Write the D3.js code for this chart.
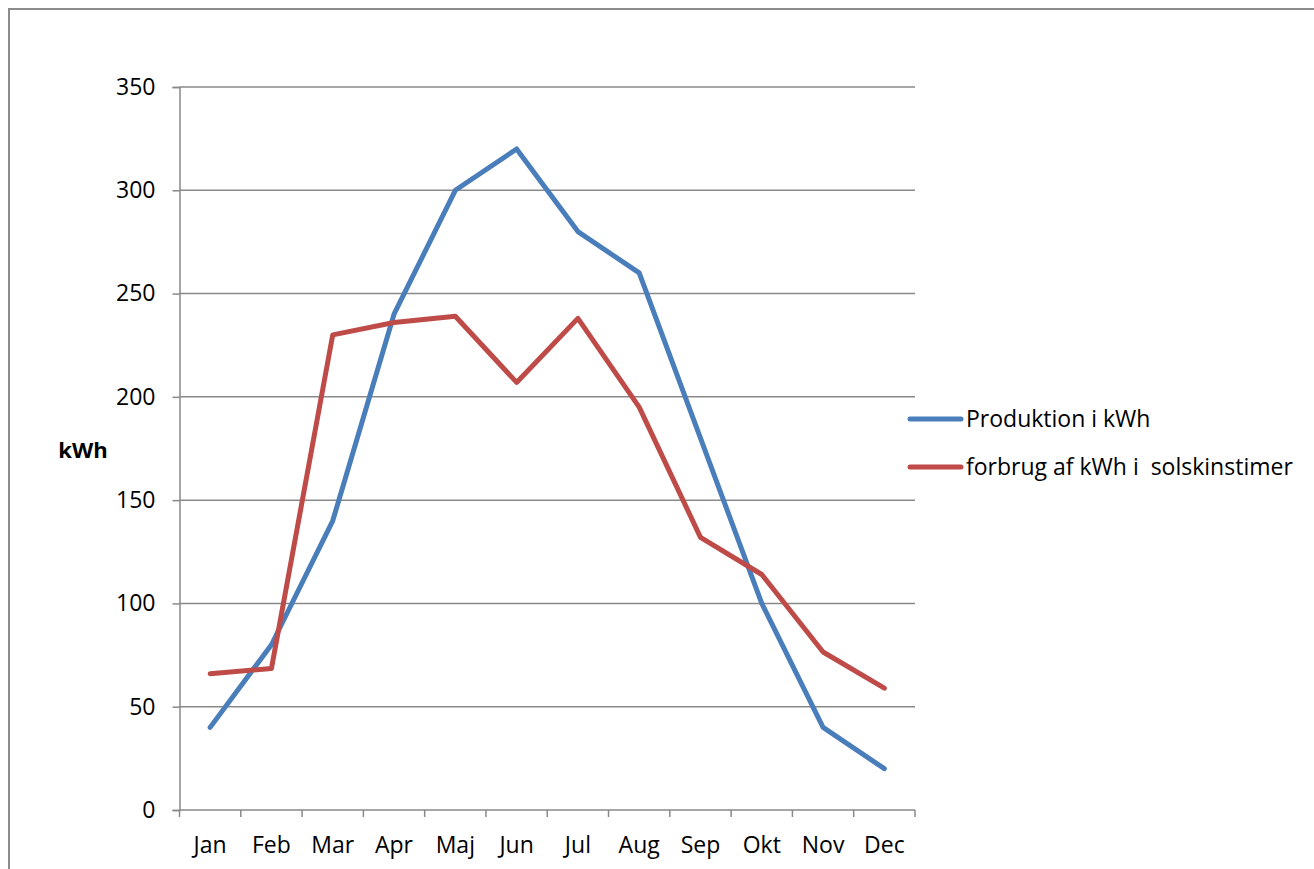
<!DOCTYPE html>
<html>
<head>
<meta charset="utf-8">
<script src="https://cdn.jsdelivr.net/npm/d3@7"></script>
<style>
  html, body { margin: 0; padding: 0; background: #fff; }
  svg { display: block; font-family: "Open Sans", "DejaVu Sans", sans-serif; }
</style>
</head>
<body>
<svg id="chart" width="1314" height="869"></svg>
<script>
// Months on the category axis
const months = ["Jan", "Feb", "Mar", "Apr", "Maj", "Jun", "Jul", "Aug", "Sep", "Okt", "Nov", "Dec"];
// Solar production per month (kWh)
const produktion = [40, 80, 140, 240, 300, 320, 280, 260, 180, 100, 40, 20];
// Consumption during sunshine hours (kWh)
const forbrug = [66, 68.5, 230, 236, 239, 207, 238, 195, 132, 114, 76.5, 59];
// Value axis ticks
const yTicks = [0, 50, 100, 150, 200, 250, 300, 350];
const seriesNames = ["Produktion i kWh", "forbrug af kWh i  solskinstimer"];

const svg = d3.select("#chart");
const plot = { left: 179.5, right: 915, top: 87, bottom: 810 };
const fontSize = 23;

// Outer chart frame
svg.append("rect")
  .attr("x", 9).attr("y", 9)
  .attr("width", 1320).attr("height", 880)
  .attr("fill", "none").attr("stroke", "#8c8c8c").attr("stroke-width", 2);

const x = d3.scaleBand().domain(months).range([plot.left, plot.right]);
const y = d3.scaleLinear().domain([0, 350]).range([plot.bottom, plot.top]);

const gridColor = "#898989";

// Horizontal gridlines
svg.append("g").selectAll("line")
  .data(yTicks.filter(d => d > 0))
  .join("line")
  .attr("x1", plot.left).attr("x2", plot.right)
  .attr("y1", d => y(d)).attr("y2", d => y(d))
  .attr("stroke", gridColor).attr("stroke-width", 1.5);

// Value axis
const yAxis = svg.append("g")
  .attr("transform", `translate(${plot.left},0)`)
  .call(d3.axisLeft(y).tickValues(yTicks).tickSize(7).tickPadding(17).tickFormat(d3.format("d")));
yAxis.select(".domain").attr("stroke", gridColor).attr("stroke-width", 1.5);
yAxis.selectAll(".tick line").attr("stroke", gridColor).attr("stroke-width", 1.5);
yAxis.selectAll(".tick text").attr("font-size", fontSize).attr("fill", "#000")
  .attr("font-family", "'Open Sans', sans-serif");

// Category axis with ticks on band boundaries
const xAxisG = svg.append("g").attr("transform", `translate(0,${plot.bottom})`);
xAxisG.append("line")
  .attr("x1", plot.left).attr("x2", plot.right)
  .attr("y1", 0).attr("y2", 0)
  .attr("stroke", gridColor).attr("stroke-width", 1.5);
const boundaries = months.map(m => x(m)).concat([plot.right]);
xAxisG.selectAll("line.tk")
  .data(boundaries)
  .join("line")
  .attr("class", "tk")
  .attr("x1", d => d).attr("x2", d => d)
  .attr("y1", 0).attr("y2", 7)
  .attr("stroke", gridColor).attr("stroke-width", 1.5);
xAxisG.selectAll("text")
  .data(months)
  .join("text")
  .attr("x", d => x(d) + x.bandwidth() / 2)
  .attr("y", 43)
  .attr("text-anchor", "middle")
  .attr("font-size", fontSize)
  .attr("fill", "#000")
  .text(d => d);

// Axis title
svg.append("text")
  .attr("x", 83).attr("y", 458)
  .attr("text-anchor", "middle")
  .attr("font-size", 22).attr("font-weight", "bold")
  .text("kWh");

// Series lines
const colors = ["#4a7ebb", "#be4b48"];
const line = d3.line()
  .x((d, i) => x(months[i]) + x.bandwidth() / 2)
  .y(d => y(d));

[produktion, forbrug].forEach((s, i) => {
  svg.append("path")
    .datum(s)
    .attr("d", line)
    .attr("fill", "none")
    .attr("stroke", colors[i])
    .attr("stroke-width", 5)
    .attr("stroke-linejoin", "round")
    .attr("stroke-linecap", "round");
});

// Legend
const legend = svg.append("g");
seriesNames.forEach((name, i) => {
  const ly = 419 + i * 48;
  legend.append("line")
    .attr("x1", 910).attr("x2", 961)
    .attr("y1", ly).attr("y2", ly)
    .attr("stroke", colors[i]).attr("stroke-width", 5)
    .attr("stroke-linecap", "round");
  legend.append("text")
    .attr("x", 966).attr("y", ly)
    .attr("dy", "0.35em")
    .attr("font-size", fontSize)
    .attr("fill", "#000")
    .style("white-space", "pre")
    .text(name);
});
</script>
</body>
</html>
